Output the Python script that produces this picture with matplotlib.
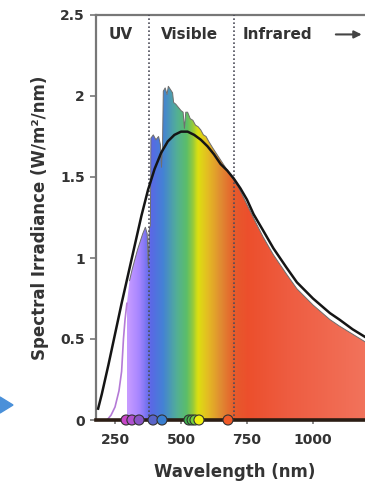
import numpy as np
import matplotlib
matplotlib.use("Agg")
import matplotlib.pyplot as plt
from matplotlib.colors import LinearSegmentedColormap
from matplotlib.patches import Polygon

# solar spectrum (nm, W/m2/nm)
spec_wl = [220, 235, 250, 265, 275, 282, 288, 295, 305, 315, 325, 335, 345, 355, 365,
           372, 376, 380, 384, 386, 395, 405, 415, 422, 426, 430, 433, 440, 447, 452,
           460, 468, 472, 480, 490, 500, 508, 513, 518, 525, 535, 545, 555, 565, 575,
           585, 595, 605, 620, 640, 660, 680, 700, 720, 750, 780, 811, 850, 900, 939,
           1000, 1064, 1100, 1150, 1200]
spec_irr = [0.00, 0.03, 0.08, 0.18, 0.30, 0.50, 0.62, 0.72, 0.86, 0.93, 0.99, 1.05, 1.10, 1.15, 1.19,
            1.15, 0.95, 1.18, 1.20, 1.74, 1.76, 1.73, 1.75, 1.70, 1.56, 1.70, 2.03, 2.05, 2.01, 2.06,
            2.04, 2.02, 1.96, 1.95, 1.93, 1.91, 1.90, 1.80, 1.90, 1.90, 1.86, 1.85, 1.82, 1.81, 1.79,
            1.76, 1.75, 1.72, 1.68, 1.63, 1.58, 1.53, 1.48, 1.43, 1.33, 1.23, 1.13, 1.02, 0.90, 0.81,
            0.71, 0.62, 0.58, 0.53, 0.48]

# blackbody curve
bb_wl = [186, 200, 225, 250, 275, 300, 325, 350, 375, 400, 425, 450, 475, 500, 525, 550,
         575, 600, 625, 650, 675, 700, 725, 750, 775, 811, 850, 900, 939, 1000, 1064, 1100,
         1150, 1200]
bb_irr = [0.07, 0.16, 0.34, 0.53, 0.72, 0.90, 1.08, 1.26, 1.42, 1.55, 1.65, 1.72, 1.76, 1.78,
          1.78, 1.76, 1.73, 1.69, 1.64, 1.58, 1.54, 1.49, 1.43, 1.36, 1.27, 1.17, 1.06, 0.94,
          0.85, 0.75, 0.66, 0.62, 0.56, 0.51]

# rainbow colour stops
stop_wl = [295, 340, 383, 430, 480, 520, 545, 562, 600, 650, 700, 750, 900, 1200]
stop_col = ["#c89cff", "#a585ff", "#5a68e6", "#4482d4", "#52ae98", "#5cbe68", "#9ccc38",
            "#dde010", "#e4bb24", "#e08a32", "#e65c2c", "#ec4f2c", "#ee5c40", "#f2735c"]

# coloured dots along the axis
dot_wl = [292, 314, 341, 394, 428, 530, 542, 553, 568, 678]
dot_col = ["#c846c8", "#b050d0", "#8a55c8", "#5a64c8", "#3a7ed0", "#3cb44b", "#4cc04c",
           "#70d040", "#f0f010", "#f05a28"]

regions = ["UV", "Visible", "Infrared"]
bounds = [380, 700]
xticks = [250, 500, 750, 1000]
yticks = [0, 0.5, 1, 1.5, 2, 2.5]
ytick_labels = ["0", "0.5", "1", "1.5", "2", "2.5"]

plt.rcParams["font.family"] = ["DejaVu Sans"]
plt.rcParams["font.weight"] = "bold"
plt.rcParams["axes.labelweight"] = "bold"

fig = plt.figure(figsize=(3.65, 4.86), dpi=100)
ax = fig.add_axes([96 / 365, 66 / 486, 269 / 365, 405 / 486])

wl = np.array(spec_wl, dtype=float)
irr = np.array(spec_irr, dtype=float)

# rainbow fill clipped to the spectrum
pos = [(w - stop_wl[0]) / (stop_wl[-1] - stop_wl[0]) for w in stop_wl]
cmap = LinearSegmentedColormap.from_list("rainbow_sun", list(zip(pos, stop_col)))
grid = np.linspace(stop_wl[0], stop_wl[-1], 800).reshape(1, -1)
im = ax.imshow(grid, extent=[stop_wl[0], stop_wl[-1], 0, 2.5], aspect="auto",
               cmap=cmap, origin="lower", zorder=1, interpolation="bilinear")
verts = np.vstack([np.column_stack([wl, irr]), [[wl[-1], 0], [wl[0], 0]]])
clip = Polygon(verts, closed=True, transform=ax.transData, facecolor="none", edgecolor="none")
ax.add_patch(clip)
im.set_clip_path(clip)

uv = wl <= 295
ax.plot(wl[uv], irr[uv], color="#b47ad6", lw=1.2, zorder=2)
ax.plot(wl[~uv], irr[~uv], color="#6e6e6e", lw=0.7, zorder=2)

ax.plot(bb_wl, bb_irr, color="#151515", lw=1.8, zorder=4)

for b in bounds:
    ax.axvline(b, color="#4d4d5a", lw=1.2, ls=(0, (1, 1.4)), zorder=3)

ax.scatter(dot_wl, np.zeros(len(dot_wl)), s=52, c=dot_col, edgecolors="#333333",
           linewidths=0.8, zorder=6, clip_on=False)

# region labels
for name, x in zip(regions, [273, 534, 867]):
    ax.text(x, 2.38, name, ha="center", va="center", fontsize=11, color="#333333")
ax.annotate("", xy=(1195, 2.38), xytext=(1076, 2.38),
            arrowprops=dict(arrowstyle="-|>", color="#444444", lw=1.5, mutation_scale=11))

ax.set_xlim(178, 1197)
ax.set_ylim(0, 2.5)
ax.set_xticks(xticks)
ax.set_yticks(yticks)
ax.set_yticklabels(ytick_labels)

for s in ["left", "top"]:
    ax.spines[s].set_color("#777777")
    ax.spines[s].set_linewidth(1.6)
ax.spines["right"].set_visible(False)
ax.spines["bottom"].set_color("#2b1d14")
ax.spines["bottom"].set_linewidth(2.6)
ax.spines["bottom"].set_zorder(5)

ax.tick_params(axis="y", length=4, width=1.2, color="#777777", pad=4,
               labelsize=10, labelcolor="#333333")
ax.tick_params(axis="x", length=3, width=1.2, color="#777777", pad=6,
               labelsize=10, labelcolor="#333333")

ax.set_xlabel("Wavelength (nm)", fontsize=12, color="#333333", fontweight="bold")
ax.xaxis.set_label_coords(0.517, -0.105)
ax.set_ylabel("Spectral Irradiance (W/m²/nm)", fontsize=12, color="#333333", fontweight="bold")
ax.yaxis.set_label_coords(-0.175, 0.5)

# blue pointer at the left edge
fig.patches.append(Polygon([[0, 89 / 486], [13 / 365, 81 / 486], [0, 73 / 486]],
                           closed=True, transform=fig.transFigure, color="#4a90d9"))

fig.savefig("out.png", dpi=100)
